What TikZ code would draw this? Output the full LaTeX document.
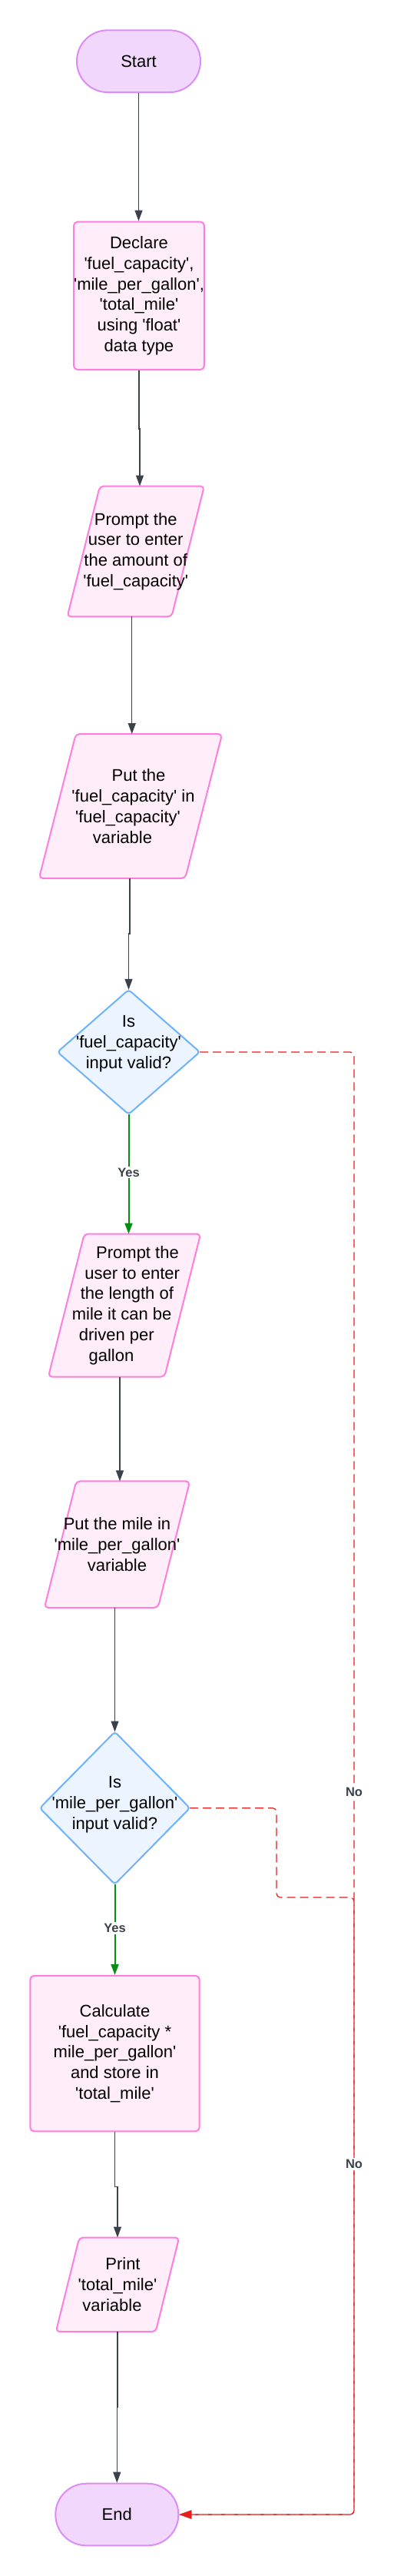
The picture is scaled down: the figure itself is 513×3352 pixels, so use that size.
\documentclass[tikz,border=0pt]{standalone}
\usepackage{fontspec}
\setmainfont{Liberation Sans}
\usetikzlibrary{arrows.meta,calc,backgrounds}
\definecolor{termfill}{HTML}{F2D7FC}
\definecolor{termline}{HTML}{DC8CF6}
\definecolor{procfill}{HTML}{FFEEF9}
\definecolor{procline}{HTML}{FF7DDC}
\definecolor{decfill}{HTML}{EBF4FF}
\definecolor{decline}{HTML}{6DB2FA}
\definecolor{arrowgray}{HTML}{3A414A}
\definecolor{yesgreen}{HTML}{078C14}
\definecolor{nored}{HTML}{E81D1D}
\newcommand{\sq}{\textquotesingle}
\newcommand{\pad}[1]{\rule{#1}{0pt}}
\begin{document}
\begin{tikzpicture}[x=1pt,y=-1pt,
  shapebox/.style={inner sep=0pt, align=center, text=black, font=\fontsize{22}{26.8}\selectfont},
  term/.style={shapebox, draw=termline, fill=termfill, line width=2pt, rounded corners=40pt},
  proc/.style={draw=procline, fill=procfill, line width=2pt, rounded corners=5pt},
  dec/.style={draw=decline, fill=decfill, line width=2pt, rounded corners=4pt},
  flow/.style={draw=arrowgray, line width=1.2pt, -{Triangle[length=14pt,width=10pt]}},
  yesarrow/.style={draw=yesgreen, line width=2pt, -{Triangle[length=14pt,width=10pt]}},
  noarrow/.style={draw=nored, line width=1.2pt, dash pattern=on 11pt off 6pt, rounded corners=5pt, -{Triangle[length=16pt,width=11pt]}},
  lbl/.style={font=\fontsize{16.5}{18}\selectfont\bfseries, text=arrowgray, fill=white, inner sep=2pt}
]
\useasboundingbox (0,0) rectangle (513,3352);

% terminals and rectangles
\node[term, minimum width=161pt, minimum height=80.7pt] (start) at (180.5,79.7) {Start};
\node[shapebox, proc, minimum width=162pt, minimum height=192.4pt] (decl) at (181,384.8)
  {Declare\\\sq fuel\_capacity\sq,\\\sq mile\_per\_gallon\sq,\\\sq total\_mile\sq\\using \sq float\sq\\data type};

% parallelograms (text nodes; shapes on background)
\node[shapebox, minimum width=178pt, minimum height=169.5pt] (p1) at (176.75,717.5)
  {Prompt the\\user to enter\\the amount of\\\sq fuel\_capacity\sq};
\node[shapebox, minimum width=238pt, minimum height=187.5pt] (put1) at (170,1049)
  {\pad{21pt}Put the\\\pad{7pt}\sq fuel\_capacity\sq{} in\\\sq fuel\_capacity\sq\pad{7pt}\\variable\pad{21pt}};
\node[minimum width=185pt, minimum height=161.7pt, inner sep=0pt] (d1) at (167.5,1368.9) {};
\node[shapebox] (d1t) at (167.5,1358) {Is\\\sq fuel\_capacity\sq\\input valid?};
\node[shapebox, minimum width=198pt, minimum height=185.6pt] (p2) at (162,1698.6)
  {\pad{34pt}Prompt the\\\pad{20.4pt}user to enter\\\pad{6.8pt}the length of\\mile it can be\pad{6.8pt}\\driven per\pad{20.4pt}\\gallon\pad{34pt}};
\node[shapebox, minimum width=189pt, minimum height=164.2pt] (put2) at (152.5,2009.7)
  {Put the mile in\\\sq mile\_per\_gallon\sq\\variable};
\node[minimum width=195pt, minimum height=198pt, inner sep=0pt] (d2) at (149.5,2352.7) {};
\node[shapebox] (d2t) at (149.5,2348) {Is\\\sq mile\_per\_gallon\sq\\input valid?};
\node[shapebox, proc, minimum width=220.4pt, minimum height=202.4pt] (calc) at (149.5,2672.1)
  {Calculate\\\sq fuel\_capacity *\\mile\_per\_gallon\sq\\and store in\\\sq total\_mile\sq};
\node[shapebox, minimum width=160pt, minimum height=122.3pt] (print) at (153,2972.85)
  {\pad{14pt}Print\\\sq total\_mile\sq\\variable\pad{14pt}};
\node[term, minimum width=160pt, minimum height=80.6pt] (endn) at (152.3,3272) {End};

\begin{pgfonlayer}{background}
  \draw[proc] ([xshift=42.5pt]p1.north west) -- (p1.north east) -- ([xshift=-42.5pt]p1.south east) -- (p1.south west) -- cycle;
  \draw[proc] ([xshift=48pt]put1.north west) -- (put1.north east) -- ([xshift=-48pt]put1.south east) -- (put1.south west) -- cycle;
  \draw[proc] ([xshift=47pt]p2.north west) -- (p2.north east) -- ([xshift=-47pt]p2.south east) -- (p2.south west) -- cycle;
  \draw[proc] ([xshift=41.5pt]put2.north west) -- (put2.north east) -- ([xshift=-41.5pt]put2.south east) -- (put2.south west) -- cycle;
  \draw[proc] ([xshift=30.5pt]print.north west) -- (print.north east) -- ([xshift=-30.5pt]print.south east) -- (print.south west) -- cycle;
  \draw[dec] (d1.north) -- (d1.east) -- (d1.south) -- (d1.west) -- cycle;
  \draw[dec] (d2.north) -- (d2.east) -- (d2.south) -- (d2.west) -- cycle;
\end{pgfonlayer}

% connectors
\draw[flow] (start.south) -- (start.south |- decl.north);
\draw[flow] (decl.south) -- ++(0,76) -| ([xshift=5.25pt]p1.north);
\draw[flow] ([xshift=-5pt]p1.south) -- ([xshift=-5pt]p1.south |- put1.north);
\draw[flow] ([xshift=-1pt]put1.south) -- ++(0,72) -| (d1.north);
\draw[yesarrow] (d1.south) -- (d1.south |- p2.north);
\draw[flow] ([xshift=-6pt]p2.south) -- ([xshift=-6pt]p2.south |- put2.north);
\draw[flow] ([xshift=-2.75pt]put2.south) -- ++(0,81) -| (d2.north);
\draw[yesarrow] (d2.south) -- (d2.south |- calc.north);
\draw[flow] (calc.south) -- ++(0,71) -| (print.north);
\draw[flow] (print.south) -- ++(0,98) -| (endn.north);

\coordinate (nox) at (461,2800);
\coordinate (nojog) at (360,2469);
\draw[noarrow] (d1.east) -- (d1.east -| nox) -- (nox |- endn.east) -- (endn.east);
\draw[noarrow] (d2.east) -- (d2.east -| nojog) -- (nojog) -- (nojog -| nox) -- (nox |- endn.east) -- (endn.east);

% labels
\node[lbl] (yes1) at (167.5,1525.5) {Yes};
\node[lbl] (yes2) at (149.5,2509) {Yes};
\node[lbl] (no1) at (461,2331.5) {No};
\node[lbl] (no2) at (461,2816) {No};
\end{tikzpicture}
\end{document}
